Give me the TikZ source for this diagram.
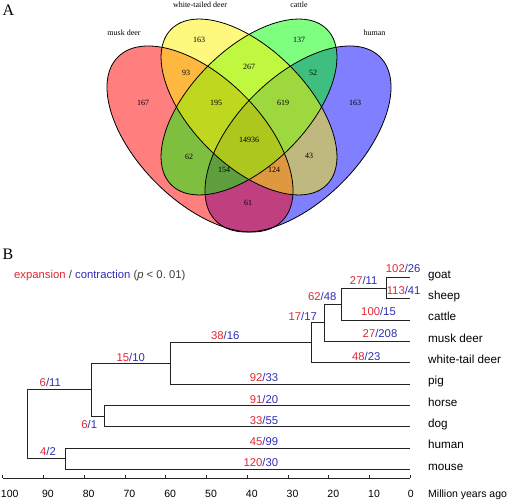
\documentclass[tikz,border=0pt]{standalone}
\usepackage{fontspec}
\setmainfont{Liberation Serif}
\newfontfamily\arialfont{Liberation Sans}
\usepackage{tikz}
\usetikzlibrary{positioning}
\definecolor{expred}{RGB}{222,40,52}
\definecolor{conblue}{RGB}{45,45,185}
\definecolor{treegray}{RGB}{35,35,35}
\definecolor{notegray}{RGB}{60,60,60}
\newcommand{\expcon}[2]{{\color{expred}#1}{\color{conblue}/#2}}
\tikzset{
		venn set/.style={
			fill opacity=0.5,
			draw=none
		},
		venn border/.style={
			draw=black,
			line width=0.8pt
		},
		venn count/.style={
			font=\fontsize{8}{9}\selectfont,
			inner sep=0pt
		},
		venn name/.style={
			font=\fontsize{8}{9}\selectfont,
			inner sep=0pt
		},
		panel label/.style={
			font=\fontsize{16}{18}\selectfont,
			anchor=base west,
			inner sep=0pt
		},
		tree line/.style={
			draw=treegray,
			line width=0.8pt
		},
		leaf label/.style={
			font=\arialfont\fontsize{11.7}{13}\selectfont,
			anchor=base west,
			inner sep=0pt
		},
		branch label/.style={
			font=\arialfont\fontsize{11.3}{13}\selectfont,
			anchor=base,
			inner sep=0pt
		},
		axis label/.style={
			font=\arialfont\fontsize{10.5}{12}\selectfont,
			anchor=base,
			inner sep=0pt
		}
	}

\begin{document}
\begin{tikzpicture}[x=1pt, y=-1pt]
			\useasboundingbox (0,0) rectangle (508,500);
			% A: four sets
			\foreach \cx/\cy/\ang/\ra/\rb/\col in {298/139/45/116/62/blue, 200/139/-45/116/62/red,
				249/107/45/110/58/green, 249/107/-45/110/58/yellow}
				\fill[venn set, fill=\col, rotate around={\ang:(\cx,\cy)}] (\cx,\cy) ellipse [x radius=\ra pt, y radius=\rb pt];
			\foreach \cx/\cy/\ang/\ra/\rb in {298/139/45/116/62, 200/139/-45/116/62,
				249/107/45/110/58, 249/107/-45/110/58}
				\draw[venn border, rotate around={\ang:(\cx,\cy)}] (\cx,\cy) ellipse [x radius=\ra pt, y radius=\rb pt];
			\node[panel label] (A) at (2.5,16) {A};
			\node[venn name] (musk name) at (124,33) {musk deer};
			\node[venn name] (wtd name) at (200,5) {white-tailed deer};
			\node[venn name] (cattle name) at (299,5) {cattle};
			\node[venn name] (human name) at (374.5,33) {human};
			\foreach \px/\py/\num [count=\k] in {143/103/167, 199/40/163, 299/40/137, 355/103/163,
				186/73/93, 249/67/267, 313/73/52, 216/103/195, 283/103/619, 249/140/14936,
				189/157/62, 309/156/43, 224/170/154, 274/170/124, 248/203/61}
				\node[venn count] (count \k) at (\px,\py) {\num};
			% B: tree
			\node[panel label] (B) at (2.5,259) {B};
			\node[branch label, anchor=base west] (legend) at (14,278.5)
				{{\color{expred}expansion} {\color{notegray}/} {\color{conblue}contraction} {\color{notegray}(\textit{p} < 0.\ 01)}};
			\foreach \leaf/\name [count=\i from 0] in {goat/goat, sheep/sheep, cattle/cattle, musk/musk deer,
				wtd/white-tail deer, pig/pig, horse/horse, dog/dog, human/human, mouse/mouse}{
				\coordinate (\leaf) at (410.3,277.3+21.33*\i);
				\node[leaf label] (\leaf text) at (428,278.3+21.33*\i) {\name};
			}
			\coordinate (gs) at (386.3,288);
			\coordinate (gsc) at (341.7,304);
			\coordinate (bov) at (324,322.7);
			\coordinate (rum) at (311.7,342.6);
			\coordinate (cet) at (170,363.3);
			\coordinate (hd) at (104,416);
			\coordinate (laur) at (91.7,389.7);
			\coordinate (hm) at (65,458.7);
			\coordinate (root) at (27.3,424.2);
			\foreach \up/\down in {gs/goat, gs/sheep, gsc/gs, gsc/cattle, bov/gsc, bov/musk, rum/bov, rum/wtd,
				cet/rum, cet/pig, hd/horse, hd/dog, laur/cet, laur/hd, hm/human, hm/mouse, root/laur, root/hm}
				\draw[tree line] (\up) |- (\down);
			% gains / losses
			\node[branch label, anchor=base east] (lab goat) at (420.7,272.7) {\expcon{102}{26}};
			\node[branch label, anchor=base east] (lab sheep) at (420.7,294.3) {\expcon{113}{41}};
			\node[branch label] (lab gs) at (363.7,284) {\expcon{27}{11}};
			\node[branch label] (lab gsc) at (322.3,300) {\expcon{62}{48}};
			\node[branch label] (lab cattle) at (378.5,315.7) {\expcon{100}{15}};
			\node[branch label] (lab bov) at (302.8,320) {\expcon{17}{17}};
			\node[branch label] (lab musk) at (380,337.3) {\expcon{27}{208}};
			\node[branch label] (lab wtd) at (366.2,360) {\expcon{48}{23}};
			\node[branch label] (lab rum) at (225.2,339.3) {\expcon{38}{16}};
			\node[branch label] (lab cet) at (130.8,361) {\expcon{15}{10}};
			\node[branch label] (lab laur) at (50.3,386.7) {\expcon{6}{11}};
			\node[branch label] (lab hd) at (89.2,428.3) {\expcon{6}{1}};
			\node[branch label] (lab hm) at (48,455.7) {\expcon{4}{2}};
			\foreach \leaf/\ex/\co [count=\i from 5] in {pig/92/33, horse/91/20, dog/33/55, human/45/99, mouse/120/30}
				\node[branch label, anchor=base east] (lab \leaf) at (278.3,381.7+21.3*\i-106.5) {\expcon{\ex}{\co}};
			% time axis
			\coordinate (axis start) at (2.7,478);
			\coordinate (axis end) at (410.3,478);
			\draw[tree line] (axis start) -- (axis end);
			\foreach \t/\dx in {0/0.5, 10/4.5, 20/4.5, 30/4.5, 40/4.5, 50/4.5, 60/4.5, 70/4.5, 80/4.5, 90/4.5, 100/7}{
				\draw[tree line] (410.3-4.076*\t,478) -- ++(0,-3);
				\node[axis label] (tick \t) at (410.3-4.076*\t+\dx,497.3) {\t};
			}
			\node[axis label, anchor=base west] (axis title) at (428,497.3) {Million years ago};
		\end{tikzpicture}
\end{document}
